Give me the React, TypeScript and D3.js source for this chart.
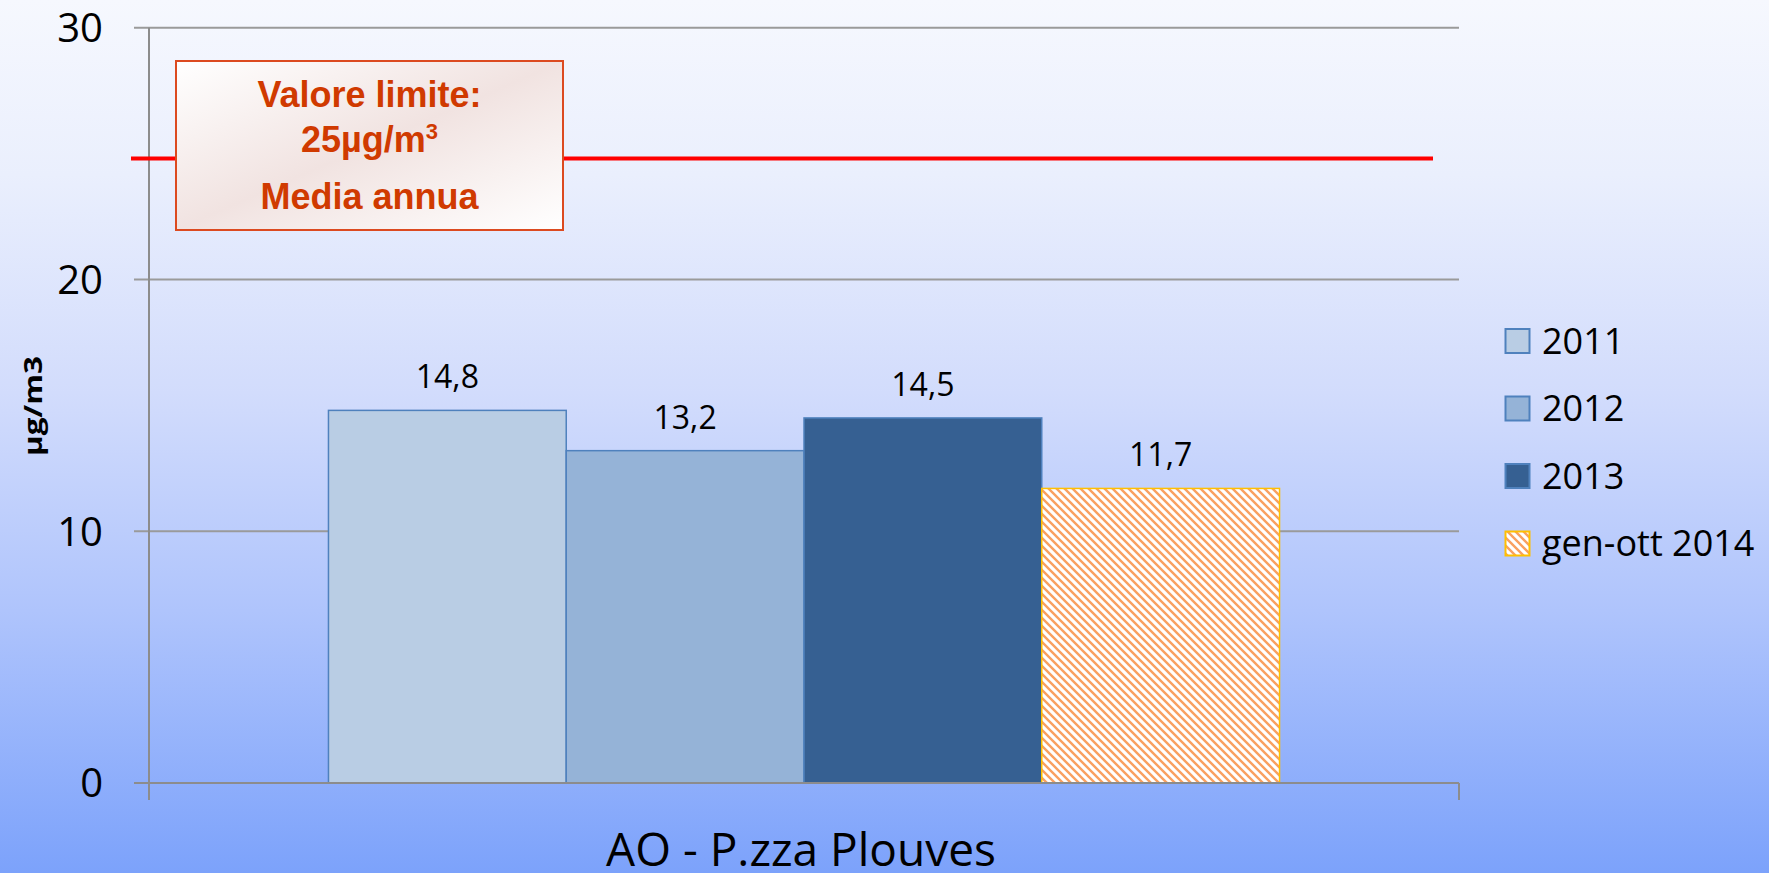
import React from "react";
import * as d3 from "d3";

const categories = ["AO - P.zza Plouves"];
const seriesNames = ["2011", "2012", "2013", "gen-ott 2014"];
const seriesValues = [14.8, 13.2, 14.5, 11.7];
const valueLabels = ["14,8", "13,2", "14,5", "11,7"];
const yTicks = [0, 10, 20, 30];
const limitLineValue = 24.8;
const limitBoxLines = ["Valore limite:", "25µg/m", "Media annua"];
const yAxisTitle = "µg/m3";

const W = 1769;
const H = 873;
const plot = { left: 149, right: 1459, top: 27.7, bottom: 783 };

const fills = ["#b9cde4", "#95b3d7", "#366092", "url(#hatch)"];
const strokes = ["#4f81bd", "#4f81bd", "#4f81bd", "#ffc000"];

export default function App() {
  const y = d3.scaleLinear().domain([0, 30]).range([plot.bottom, plot.top]);
  const x0 = d3
    .scaleBand<string>()
    .domain(categories)
    .range([plot.left, plot.right])
    .paddingInner(0)
    .paddingOuter(0.1887);
  const x1 = d3
    .scaleBand<string>()
    .domain(seriesNames)
    .range([0, x0.bandwidth()])
    .padding(0);

  const cat = categories[0];
  const gx = x0(cat) as number;
  const font = "'Open Sans', 'DejaVu Sans', sans-serif";
  const legendY = [341, 408.5, 476, 543.5];

  return (
    <svg
      width={W}
      height={H}
      style={{ position: "absolute", left: 0, top: 0, display: "block" }}
    >
      <defs>
        <linearGradient id="bg" x1="0" y1="0" x2="0" y2="1">
          <stop offset="0" stopColor="#f6f8fe" />
          <stop offset="0.2" stopColor="#eaeffd" />
          <stop offset="0.45" stopColor="#d2dcfc" />
          <stop offset="0.7" stopColor="#afc4fc" />
          <stop offset="1" stopColor="#7ca2fb" />
        </linearGradient>
        <linearGradient id="boxfill" x1="0" y1="0" x2="1" y2="1">
          <stop offset="0" stopColor="#ffffff" />
          <stop offset="0.5" stopColor="#f1e3e1" />
          <stop offset="1" stopColor="#ffffff" />
        </linearGradient>
        <pattern id="hatch" patternUnits="userSpaceOnUse" width="8" height="8">
          <rect width="8" height="8" fill="#ffffff" />
          <path
            d="M0,0 L8,8 M-2,6 L2,10 M6,-2 L10,2"
            stroke="#f9a060"
            strokeWidth="2.4"
          />
        </pattern>
      </defs>
      <rect x={0} y={0} width={W} height={H} fill="url(#bg)" />

      {yTicks.map((t) => (
        <g key={t}>
          <line
            x1={plot.left - 15}
            x2={plot.right}
            y1={y(t)}
            y2={y(t)}
            stroke="#9a9a9a"
            strokeWidth={2}
          />
          <text
            x={103}
            y={y(t)}
            dy="0.36em"
            textAnchor="end"
            fontFamily={font}
            fontSize={40}
            fill="#000"
          >
            {t}
          </text>
        </g>
      ))}
      <line x1={plot.left} x2={plot.left} y1={plot.top} y2={plot.bottom + 17} stroke="#8c8c8c" strokeWidth={2} />
      <line x1={plot.right} x2={plot.right} y1={plot.bottom} y2={plot.bottom + 17} stroke="#8c8c8c" strokeWidth={2} />

      {seriesNames.map((s, i) => {
        const bx = gx + (x1(s) as number);
        const bw = x1.bandwidth();
        const v = seriesValues[i];
        return (
          <g key={s}>
            <rect
              x={bx}
              y={y(v)}
              width={bw}
              height={y(0) - y(v)}
              fill={fills[i]}
              stroke={strokes[i]}
              strokeWidth={1.5}
            />
            <text
              x={bx + bw / 2}
              y={y(v) - 22}
              textAnchor="middle"
              fontFamily={font}
              fontSize={32}
              fill="#000"
            >
              {valueLabels[i]}
            </text>
          </g>
        );
      })}
      <line x1={plot.left - 15} x2={plot.right} y1={y(0)} y2={y(0)} stroke="#8c8c8c" strokeWidth={2} />

      <line x1={131} x2={1433} y1={y(limitLineValue)} y2={y(limitLineValue)} stroke="#ff0000" strokeWidth={4} />

      <rect x={176} y={61} width={387} height={169} fill="url(#boxfill)" stroke="#dc4a20" strokeWidth={2} />
      <g fontFamily="'Liberation Sans', Arial, sans-serif" fontWeight="bold" fontSize={36} fill="#d03a00" textAnchor="middle">
        <text x={369.5} y={107}>{limitBoxLines[0]}</text>
        <text x={369.5} y={152}>
          {limitBoxLines[1]}
          <tspan fontSize={22} dy={-13}>3</tspan>
        </text>
        <text x={369.5} y={209}>{limitBoxLines[2]}</text>
      </g>

      <text
        transform={`translate(42,406) rotate(-90)`}
        textAnchor="middle"
        fontFamily={font}
        fontWeight="bold"
        fontSize={25}
        textLength={100}
        lengthAdjust="spacingAndGlyphs"
        fill="#000"
      >
        {yAxisTitle}
      </text>

      <text
        x={gx + x0.bandwidth() / 2 - 3}
        y={866}
        textAnchor="middle"
        fontFamily={font}
        fontSize={46}
        fill="#000"
      >
        {cat}
      </text>

      {seriesNames.map((s, i) => (
        <g key={s}>
          <rect
            x={1505.5}
            y={legendY[i] - 12}
            width={24}
            height={24}
            fill={fills[i]}
            stroke={strokes[i]}
            strokeWidth={2}
          />
          <text
            x={1542}
            y={legendY[i]}
            dy="0.36em"
            fontFamily={font}
            fontSize={36}
            fill="#000"
          >
            {s}
          </text>
        </g>
      ))}
    </svg>
  );
}
